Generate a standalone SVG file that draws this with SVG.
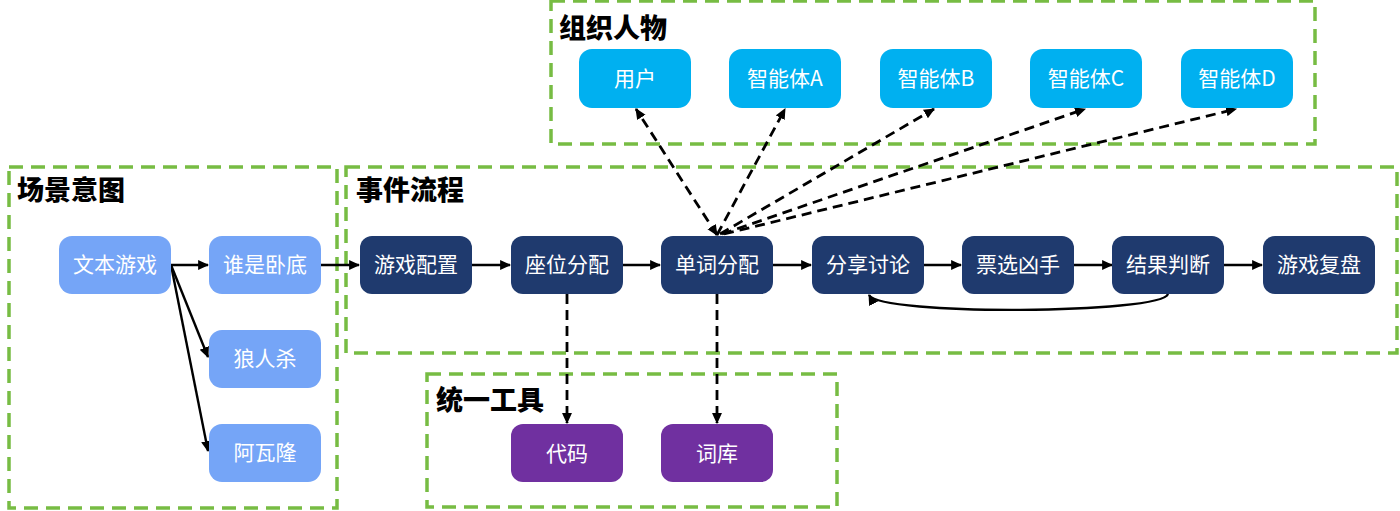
<svg xmlns="http://www.w3.org/2000/svg" width="1400" height="511" viewBox="0 0 1400 511">
<defs>
<marker id="arr" viewBox="0 0 10 10" refX="9" refY="5" markerWidth="11" markerHeight="11" markerUnits="userSpaceOnUse" orient="auto-start-reverse">
<path d="M0,0.5 L10,5 L0,9.5 z" fill="#000"/>
</marker>
<style>
.grp{fill:none;stroke:#77BC43;stroke-width:3.5;stroke-dasharray:14 8}
.title{font-family:"Noto Sans CJK SC","Noto Sans",sans-serif;font-weight:900;font-size:27px;fill:#000}
.lbl{font-family:"Noto Sans CJK SC","Noto Sans",sans-serif;font-size:21px;fill:#fff;text-anchor:middle}
.scene{fill:#75A5F7}
.event{fill:#1F3A6E}
.person{fill:#00B0F0}
.tool{fill:#7030A0}
.solid{fill:none;stroke:#000;stroke-width:2.4}
.dash{fill:none;stroke:#000;stroke-width:2.8;stroke-dasharray:10 6}
</style>
</defs>
<rect width="1400" height="511" fill="#fff"/>
<g id="groups">
<rect class="grp" x="551" y="1" width="764" height="143"/>
<rect class="grp" x="9" y="167" width="328" height="341"/>
<rect class="grp" x="346" y="167" width="1051" height="186"/>
<rect class="grp" x="427" y="374" width="410" height="133"/>
<text class="title" x="559" y="38">组织人物</text>
<text class="title" x="17" y="200">场景意图</text>
<text class="title" x="356" y="200">事件流程</text>
<text class="title" x="436" y="410">统一工具</text>
</g>
<g id="connectors">
<line class="solid" x1="171" y1="265" x2="208" y2="265" marker-end="url(#arr)"/>
<line class="solid" x1="171" y1="265" x2="208" y2="357" marker-end="url(#arr)"/>
<line class="solid" x1="171" y1="265" x2="208" y2="451" marker-end="url(#arr)"/>
<line class="solid" x1="321" y1="265" x2="359" y2="265" marker-end="url(#arr)"/>
<line class="solid" x1="472" y1="265" x2="510" y2="265" marker-end="url(#arr)"/>
<line class="solid" x1="622" y1="265" x2="660" y2="265" marker-end="url(#arr)"/>
<line class="solid" x1="773" y1="265" x2="811" y2="265" marker-end="url(#arr)"/>
<line class="solid" x1="923" y1="265" x2="961" y2="265" marker-end="url(#arr)"/>
<line class="solid" x1="1074" y1="265" x2="1112" y2="265" marker-end="url(#arr)"/>
<line class="solid" x1="1224" y1="265" x2="1262" y2="265" marker-end="url(#arr)"/>
<path class="solid" d="M1168,294 C1162,314 880,316 869,295" marker-end="url(#arr)"/>
<line class="dash" x1="717" y1="235" x2="636" y2="109" marker-start="url(#arr)" marker-end="url(#arr)"/>
<line class="dash" x1="717" y1="235" x2="785" y2="109" marker-end="url(#arr)"/>
<line class="dash" x1="720" y1="234" x2="934" y2="109" marker-end="url(#arr)"/>
<line class="dash" x1="722" y1="234" x2="1085" y2="109" marker-end="url(#arr)"/>
<line class="dash" x1="724" y1="234" x2="1236" y2="109" marker-end="url(#arr)"/>
<line class="dash" x1="567" y1="294" x2="567" y2="423" marker-end="url(#arr)"/>
<line class="dash" x1="717" y1="294" x2="717" y2="423" marker-end="url(#arr)"/>
</g>
<g id="n-wenben"><rect class="scene" x="59" y="236" width="112" height="58" rx="13"/><text class="lbl" x="115" y="272">文本游戏</text></g>
<g id="n-shuishi"><rect class="scene" x="209" y="236" width="112" height="58" rx="13"/><text class="lbl" x="265" y="272">谁是卧底</text></g>
<g id="n-langren"><rect class="scene" x="209" y="330" width="112" height="58" rx="13"/><text class="lbl" x="265" y="366">狼人杀</text></g>
<g id="n-awalong"><rect class="scene" x="209" y="424" width="112" height="58" rx="13"/><text class="lbl" x="265" y="460">阿瓦隆</text></g>
<g id="n-peizhi"><rect class="event" x="360" y="236" width="112" height="58" rx="12"/><text class="lbl" x="416" y="272">游戏配置</text></g>
<g id="n-zuowei"><rect class="event" x="511" y="236" width="112" height="58" rx="12"/><text class="lbl" x="567" y="272">座位分配</text></g>
<g id="n-danci"><rect class="event" x="661" y="236" width="112" height="58" rx="12"/><text class="lbl" x="717" y="272">单词分配</text></g>
<g id="n-fenxiang"><rect class="event" x="812" y="236" width="112" height="58" rx="12"/><text class="lbl" x="868" y="272">分享讨论</text></g>
<g id="n-piaoxuan"><rect class="event" x="962" y="236" width="112" height="58" rx="12"/><text class="lbl" x="1018" y="272">票选凶手</text></g>
<g id="n-jieguo"><rect class="event" x="1112" y="236" width="112" height="58" rx="12"/><text class="lbl" x="1168" y="272">结果判断</text></g>
<g id="n-fupan"><rect class="event" x="1263" y="236" width="112" height="58" rx="12"/><text class="lbl" x="1319" y="272">游戏复盘</text></g>
<g id="n-yonghu"><rect class="person" x="579" y="49" width="112" height="59" rx="13"/><text class="lbl" x="635" y="86">用户</text></g>
<g id="n-agentA"><rect class="person" x="729" y="49" width="112" height="59" rx="13"/><text class="lbl" x="785" y="86">智能体A</text></g>
<g id="n-agentB"><rect class="person" x="880" y="49" width="112" height="59" rx="13"/><text class="lbl" x="936" y="86">智能体B</text></g>
<g id="n-agentC"><rect class="person" x="1030" y="49" width="112" height="59" rx="13"/><text class="lbl" x="1086" y="86">智能体C</text></g>
<g id="n-agentD"><rect class="person" x="1181" y="49" width="112" height="59" rx="13"/><text class="lbl" x="1237" y="86">智能体D</text></g>
<g id="n-daima"><rect class="tool" x="511" y="424" width="112" height="58" rx="12"/><text class="lbl" x="567" y="461">代码</text></g>
<g id="n-ciku"><rect class="tool" x="661" y="424" width="112" height="58" rx="12"/><text class="lbl" x="717" y="461">词库</text></g>
</svg>
